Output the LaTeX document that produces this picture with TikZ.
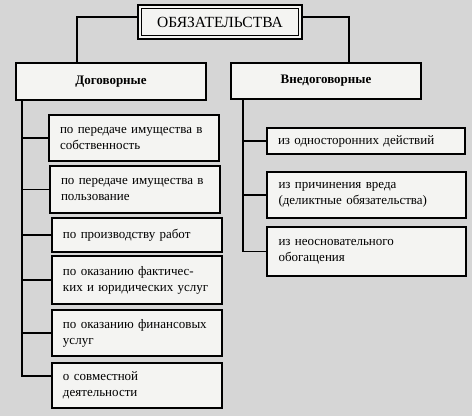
\documentclass[tikz,border=0pt]{standalone}
\usepackage{fontspec}
\setmainfont{Liberation Serif}
\begin{document}
\begin{tikzpicture}[x=1pt,y=-1pt,
  every node/.style={inner sep=0pt, outer sep=0pt},
  box/.style={draw=black, line width=1.1pt, fill=boxfill, anchor=north west},
  leaf/.style={box, font=\fontsize{13}{16}\selectfont, align=left, text width=#1, inner xsep=11pt},
  head/.style={box, font=\fontsize{13}{15}\selectfont\bfseries, align=center},
  conn/.style={draw=black, line width=1.1pt}]
\definecolor{bg}{RGB}{214,214,214}
\definecolor{boxfill}{RGB}{244,244,242}
\useasboundingbox (0,0) rectangle (472,416);
\fill[bg] (0,0) rectangle (472,416);
% title
\node[box, line width=2pt, minimum width=164pt, minimum height=34pt,
  font=\fontsize{15.5}{17}\selectfont] (title) at (138,5) {ОБЯЗАТЕЛЬСТВА};
\draw[line width=0.8pt] ([shift={(3.5,3.5)}]title.north west) rectangle ([shift={(-3.5,-3.5)}]title.south east);
% heads
\node[head, minimum width=190pt, minimum height=37pt] (dog) at (16,63) {Договорные};
\node[head, minimum width=190pt, minimum height=36pt] (vne) at (231,63) {Внедоговорные};
% left leaves
\node[leaf=148pt, minimum width=170pt, minimum height=46pt] (l1) at (49,115) {по передаче имущества в\\собственность};
\node[leaf=148pt, minimum width=170pt, minimum height=47pt] (l2) at (50,166) {по передаче имущества в\\пользование};
\node[leaf=148pt, minimum width=170pt, minimum height=34pt] (l3) at (52,218) {по производству работ};
\node[leaf=148pt, minimum width=170pt, minimum height=48pt] (l4) at (52,256) {по оказанию фактичес-\\ких и юридических услуг};
\node[leaf=148pt, minimum width=170pt, minimum height=46pt] (l5) at (52,310) {по оказанию финансовых\\услуг};
\node[leaf=148pt, minimum width=170pt, minimum height=45pt] (l6) at (52,363) {о совместной\\деятельности};
% right leaves
\node[leaf=176pt, minimum width=198pt, minimum height=26pt] (r1) at (267,128) {из односторонних действий};
\node[leaf=176pt, minimum width=199pt, minimum height=46pt] (r2) at (267,172) {из причинения вреда\\(деликтные обязательства)};
\node[leaf=176pt, minimum width=199pt, minimum height=49pt] (r3) at (267,227) {из неосновательного\\обогащения};
% connectors from title
\draw[conn] ([yshift=5pt]title.west) -| ([xshift=-34pt]dog.north);
\draw[conn] ([yshift=5pt]title.east) -| ([xshift=23pt]vne.north);
% left trunk
\coordinate (lt) at ([xshift=6pt]dog.south west);
\draw[conn] (lt) |- ([yshift=9.5pt]l6.west);
\foreach \n in {l1,l2,l3,l4,l5} \draw[conn] (lt |- \n.west) -- (\n.west);
% right trunk
\coordinate (rt) at ([xshift=12pt]vne.south west);
\draw[conn] (rt) |- (r3.west);
\foreach \n in {r1,r2} \draw[conn] (rt |- \n.west) -- (\n.west);
\end{tikzpicture}
\end{document}
